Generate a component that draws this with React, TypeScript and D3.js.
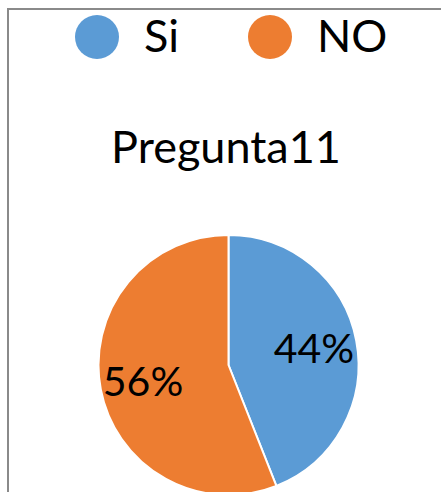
import React, { useEffect, useRef } from 'react';
import * as d3 from 'd3';

const categories = ['Si', 'NO'];
const values = [44, 56];
const colors = ['#5B9BD5', '#ED7D31'];
const title = 'Pregunta11';

export default function App() {
  const ref = useRef<SVGSVGElement | null>(null);

  useEffect(() => {
    const svg = d3.select(ref.current);
    svg.selectAll('*').remove();
    const font = 'Lato, "Open Sans", sans-serif';

    // chart area frame (cropped on right and bottom)
    svg.append('rect')
      .attr('x', 8)
      .attr('y', 9)
      .attr('width', 460)
      .attr('height', 520)
      .attr('fill', '#fff')
      .attr('stroke', '#8a8a8a')
      .attr('stroke-width', 2);

    const color = d3.scaleOrdinal<string, string>().domain(categories).range(colors);

    // legend
    const legendX = [97, 270];
    const legend = svg.append('g');
    categories.forEach((c, i) => {
      legend.append('circle')
        .attr('cx', legendX[i])
        .attr('cy', 37)
        .attr('r', 22)
        .attr('fill', color(c));
      legend.append('text')
        .attr('x', legendX[i] + 47)
        .attr('y', 52)
        .attr('font-family', font)
        .attr('font-size', 45)
        .attr('fill', '#000')
        .text(c);
    });

    svg.append('text')
      .attr('x', 226)
      .attr('y', 163)
      .attr('text-anchor', 'middle')
      .attr('font-family', font)
      .attr('font-size', 45)
      .attr('fill', '#000')
      .text(title);

    const cx = 228.5;
    const cy = 365;
    const radius = 130;

    const pie = d3.pie<number>().sort(null).value(d => d);
    const arcs = pie(values);
    const arc = d3.arc<d3.PieArcDatum<number>>().innerRadius(0).outerRadius(radius);
    const labelArc = d3.arc<d3.PieArcDatum<number>>().innerRadius(87).outerRadius(87);

    const g = svg.append('g').attr('transform', `translate(${cx},${cy})`);

    g.selectAll('path')
      .data(arcs)
      .enter()
      .append('path')
      .attr('d', arc)
      .attr('fill', (d, i) => color(categories[i]))
      .attr('stroke', '#fff')
      .attr('stroke-width', 2)
      .attr('stroke-linejoin', 'round');

    const total = d3.sum(values);
    g.selectAll('text.label')
      .data(arcs)
      .enter()
      .append('text')
      .attr('class', 'label')
      .attr('transform', d => `translate(${labelArc.centroid(d)})`)
      .attr('text-anchor', 'middle')
      .attr('dy', '0.36em')
      .attr('font-family', font)
      .attr('font-size', 41)
      .attr('fill', '#000')
      .text(d => `${Math.round((d.data / total) * 100)}%`);
  }, []);

  return (
    <svg
      ref={ref}
      width={441}
      height={492}
      style={{ position: 'absolute', left: 0, top: 0, background: '#fff' }}
    />
  );
}
